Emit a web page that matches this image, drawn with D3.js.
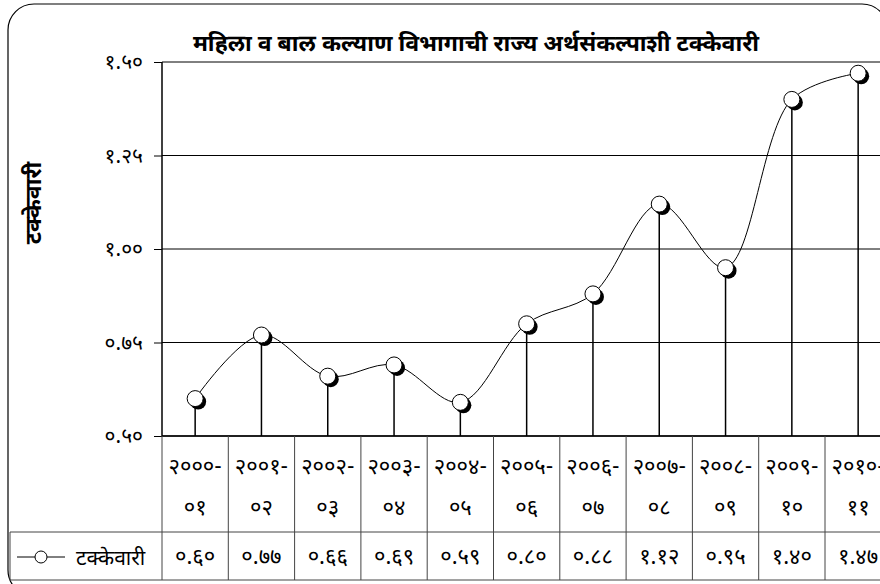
<!DOCTYPE html>
<html lang="mr">
<head>
  <meta charset="UTF-8">
  <title>टक्केवारी</title>
  <style>
    body { margin: 0; background: #fff; }
    svg { display: block; font-family: 'Noto Sans Devanagari', 'Noto Sans', 'DejaVu Sans', sans-serif; }
  </style>
</head>
<body>
  <svg width="880" height="584"></svg>

  <script src="https://d3js.org/d3.v7.min.js"></script>
  <script>
  // data
  const title = "महिला व बाल कल्याण विभागाची राज्य अर्थसंकल्पाशी टक्केवारी";
  const seriesName = "टक्केवारी";
  const years = ["2000-01", "2001-02", "2002-03", "2003-04", "2004-05", "2005-06",
                 "2006-07", "2007-08", "2008-09", "2009-10", "2010-11"];
  const values = [0.60, 0.77, 0.66, 0.69, 0.59, 0.80, 0.88, 1.12, 0.95, 1.40, 1.47];
  const yTicks = [0.50, 0.75, 1.00, 1.25, 1.50];

  const devDigits = "०१२३४५६७८९";
  const dev = s => String(s).replace(/[0-9]/g, c => devDigits[+c]);

  const svg = d3.select("svg");

  // outer frame
  svg.append("rect")
    .attr("x", 8).attr("y", 4)
    .attr("width", 880).attr("height", 592)
    .attr("rx", 26).attr("ry", 26)
    .attr("fill", "none").attr("stroke", "#000").attr("stroke-width", 1.2);

  const plotLeft = 162, plotTop = 62, plotBottom = 436;
  const x = d3.scaleBand().domain(years).range([plotLeft, plotLeft + 66.3 * years.length]);
  const y = d3.scaleLinear().domain([0.5, 1.5]).range([plotBottom, plotTop]);

  svg.append("text")
    .attr("x", 476).attr("y", 51)
    .attr("text-anchor", "middle")
    .attr("font-size", 23).attr("font-weight", "bold")
    .text(title);

  svg.append("text")
    .attr("transform", "translate(41,203) rotate(-90)")
    .attr("text-anchor", "middle")
    .attr("font-size", 23).attr("font-weight", "bold")
    .text(seriesName);

  // y axis + grid
  const yAxis = svg.append("g")
    .attr("transform", `translate(${plotLeft},0)`)
    .attr("font-family", null)
    .call(d3.axisLeft(y).tickValues(yTicks).tickSize(8).tickPadding(11)
      .tickFormat(d => dev(d.toFixed(2))));
  yAxis.attr("font-family", null).attr("font-size", 21);
  yAxis.select(".domain").remove();

  svg.append("g").selectAll("line")
    .data(yTicks)
    .join("line")
    .attr("x1", plotLeft).attr("x2", 880)
    .attr("y1", d => y(d)).attr("y2", d => y(d))
    .attr("stroke", "#000").attr("stroke-width", 1);

  svg.append("line")
    .attr("x1", plotLeft).attr("x2", plotLeft)
    .attr("y1", plotTop).attr("y2", plotBottom)
    .attr("stroke", "#000").attr("stroke-width", 1.5);

  // drop lines
  const cx = d => x(d) + x.bandwidth() / 2;
  svg.append("g").selectAll("line")
    .data(years)
    .join("line")
    .attr("x1", cx).attr("x2", cx)
    .attr("y1", (d, i) => y(values[i])).attr("y2", plotBottom)
    .attr("stroke", "#000").attr("stroke-width", 1.5);

  // smoothed line
  const line = d3.line()
    .x((d, i) => cx(years[i]))
    .y(d => y(d))
    .curve(d3.curveCatmullRom.alpha(0.5));
  svg.append("path")
    .attr("d", line(values))
    .attr("fill", "none").attr("stroke", "#000").attr("stroke-width", 1);

  // markers with shadow
  const marks = svg.append("g").selectAll("g")
    .data(values)
    .join("g")
    .attr("transform", (d, i) => `translate(${cx(years[i])},${y(d)})`);
  marks.append("circle")
    .attr("cx", 3).attr("cy", 3).attr("r", 8).attr("fill", "#000");
  marks.append("circle")
    .attr("r", 8).attr("fill", "#fff").attr("stroke", "#000").attr("stroke-width", 1);

  // data table
  const rowMid = 532, tableBottom = 580, legendLeft = 10;
  const tableColor = "#444";
  const tbl = svg.append("g");
  tbl.append("line")
    .attr("x1", plotLeft).attr("x2", 880).attr("y1", plotBottom).attr("y2", plotBottom)
    .attr("stroke", "#000").attr("stroke-width", 1.5);
  tbl.selectAll("line.col")
    .data(years)
    .join("line")
    .attr("class", "col")
    .attr("x1", d => x(d)).attr("x2", d => x(d))
    .attr("y1", plotBottom).attr("y2", tableBottom)
    .attr("stroke", tableColor);
  tbl.append("line")
    .attr("x1", legendLeft).attr("x2", 880).attr("y1", rowMid).attr("y2", rowMid)
    .attr("stroke", tableColor);
  tbl.append("line")
    .attr("x1", legendLeft).attr("x2", 880).attr("y1", tableBottom).attr("y2", tableBottom)
    .attr("stroke", tableColor);
  tbl.append("line")
    .attr("x1", legendLeft).attr("x2", legendLeft).attr("y1", rowMid).attr("y2", tableBottom)
    .attr("stroke", tableColor);

  const yearText = tbl.selectAll("text.yr")
    .data(years)
    .join("text")
    .attr("class", "yr")
    .attr("text-anchor", "middle")
    .attr("font-size", 22);
  yearText.append("tspan")
    .attr("x", cx).attr("y", 474)
    .text(d => dev(d.split("-")[0]) + "-");
  yearText.append("tspan")
    .attr("x", cx).attr("y", 515)
    .text(d => dev(d.split("-")[1]));

  tbl.selectAll("text.val")
    .data(values)
    .join("text")
    .attr("class", "val")
    .attr("x", (d, i) => cx(years[i])).attr("y", 564)
    .attr("text-anchor", "middle")
    .attr("font-size", 22)
    .text(d => dev(d.toFixed(2)));

  // legend key
  tbl.append("line")
    .attr("x1", 17).attr("x2", 65).attr("y1", 557).attr("y2", 557)
    .attr("stroke", "#000");
  tbl.append("circle")
    .attr("cx", 41).attr("cy", 557).attr("r", 6)
    .attr("fill", "#fff").attr("stroke", "#000");
  tbl.append("text")
    .attr("x", 76).attr("y", 565)
    .attr("font-size", 21)
    .text(seriesName);
  </script>
</body>
</html>
